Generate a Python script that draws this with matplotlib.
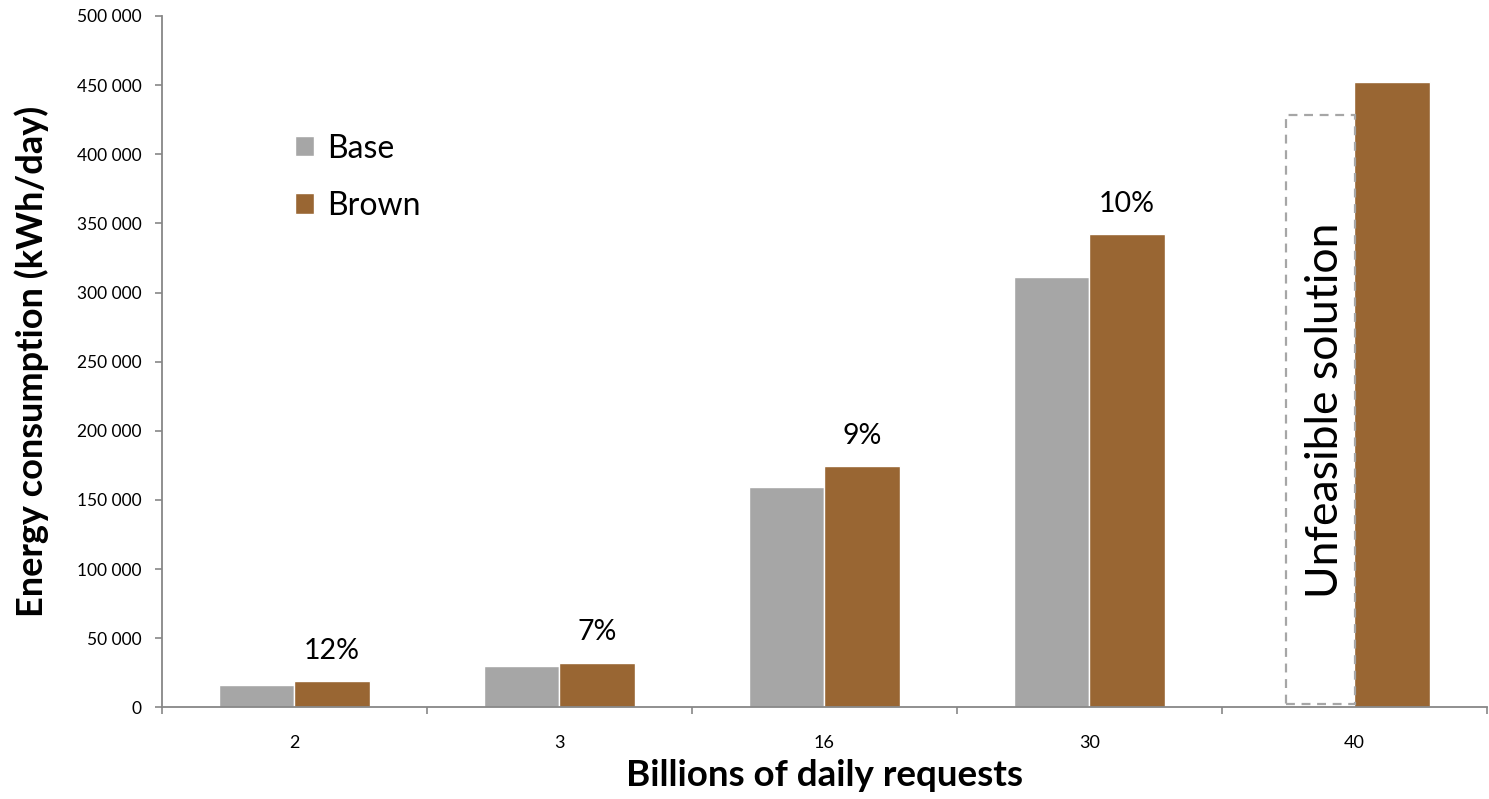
"""
plot.py

Energy consumption per day, Base vs Brown, by billions of daily requests.
"""

import numpy as np
import matplotlib
matplotlib.use("Agg")
import matplotlib.pyplot as plt
from matplotlib.ticker import FuncFormatter, FixedLocator

plt.rcParams['font.family'] = ['Lato', 'DejaVu Sans']

categories = ["2", "3", "16", "30", "40"]
base = [16350, 29650, 159550, 311400]
brown = [18800, 32040, 174500, 342100, 452300]
increase = ["12%", "7%", "9%", "10%"]
unfeasible_top = 428500
unfeasible_bottom = 2400

gray = "#A6A6A6"
brn = "#996633"
axis_col = "#878787"

fig = plt.figure(figsize=(14.89, 7.99), dpi=100)
ax = fig.add_axes([0.1086, 0.1147, 0.8899, 0.8653])

x = np.arange(len(categories))
w = 0.285
off = 0.1425

ax.bar(x[:len(base)] - off, base, w, color=gray, edgecolor="white", linewidth=1, label="Base")
ax.bar(x + off, brown, w, color=brn, edgecolor="white", linewidth=1, label="Brown")

# dashed outline where the base bar would be for 40
ax.bar(x[4] - 0.127, unfeasible_top - unfeasible_bottom, 0.26, bottom=unfeasible_bottom,
       fill=False, edgecolor=gray, linestyle=(0, (4, 3)), linewidth=1.6)
ax.text(x[4] - 0.11, 215000, "Unfeasible solution", rotation=90, fontsize=32,
        ha="center", va="center")

for i, lab in enumerate(increase):
    ax.annotate(lab, (x[i] + off, brown[i]), xytext=(0, 22), textcoords="offset points",
                ha="center", va="center", fontsize=20.5)

ax.set_xlim(-0.5, len(categories) - 0.5)
ax.set_ylim(0, 500000)

ax.set_yticks(np.arange(0, 500001, 50000))
ax.yaxis.set_major_formatter(FuncFormatter(lambda v, p: f"{v:,.0f}".replace(",", " ")))
ax.set_xticks(x)
ax.set_xticklabels(categories)
ax.xaxis.set_minor_locator(FixedLocator(np.arange(-0.5, len(categories), 1.0)))

ax.tick_params(axis="x", which="major", length=0, pad=20, labelsize=13)
ax.tick_params(axis="x", which="minor", length=4.8, width=1.2, color=axis_col)
ax.tick_params(axis="y", length=4.8, width=1.2, color=axis_col, pad=9.5, labelsize=12.5)

for s in ["top", "right"]:
    ax.spines[s].set_visible(False)
for s in ["left", "bottom"]:
    ax.spines[s].set_color(axis_col)
    ax.spines[s].set_linewidth(1.3)

ax.set_ylabel("Energy consumption (kWh/day)", fontsize=26, fontweight="bold", labelpad=20)
ax.set_xlabel("Billions of daily requests", fontsize=26.5, fontweight="bold", labelpad=6)

ax.legend(loc="upper left", bbox_to_anchor=(0.1006, 0.83), frameon=False, fontsize=23,
          handlelength=0.6, handleheight=0.6, handletextpad=0.4, labelspacing=0.85,
          borderpad=0, borderaxespad=0)

fig.savefig("out.png", dpi=100)
